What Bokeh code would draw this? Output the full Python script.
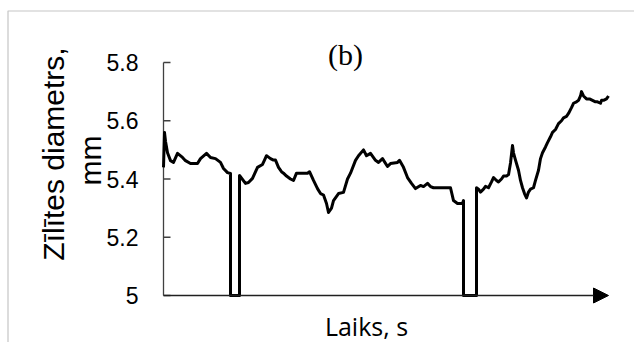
from bokeh.plotting import figure
from bokeh.models import Range1d, Label, Arrow, NormalHead, BoxAnnotation
from bokeh.embed import file_html
from bokeh.resources import INLINE
import math

# time (arbitrary units along the un-labelled axis) and pupil diameter (mm);
# the two drop-outs are recorded as values at the axis minimum
time_s = ([0, 1, 2, 4, 7, 10, 14, 19, 22, 27, 34, 37, 43, 47, 52, 57, 60, 64, 67, 67]
          + [76, 76, 82, 85, 89, 94, 99, 101, 103, 105, 107, 110, 112, 115, 118, 120, 123, 125]
          + [127, 130, 133, 144, 146, 150, 154, 157, 160, 163, 165, 168, 170, 175, 180,
             184, 187, 192, 195, 200, 203, 207, 212, 215, 219, 224, 227, 234, 236, 240,
             244, 248, 252, 257, 260, 264, 267, 270, 287, 290, 294, 299, 300, 300]
          + [313, 313, 315, 317, 320, 322, 325, 328, 330, 333, 335, 338, 340, 343, 345,
             347, 349, 350, 352, 355, 357, 359, 361, 363, 365, 367, 370, 372, 375, 377,
             379, 382, 384, 387, 389, 392, 395, 398, 400, 403, 405, 408, 410, 413, 415,
             417, 418, 420, 423, 426, 429, 432, 434, 437, 438, 440, 443, 445])
diameter = ([5.44, 5.56, 5.53, 5.49, 5.463, 5.457, 5.488, 5.474, 5.463, 5.453, 5.453,
             5.47, 5.488, 5.474, 5.47, 5.457, 5.436, 5.422, 5.419, 5.0]
            + [5.0, 5.412, 5.385, 5.388, 5.402, 5.44, 5.45, 5.465, 5.48, 5.475, 5.47,
               5.465, 5.465, 5.44, 5.425, 5.42, 5.41, 5.405]
            + [5.40, 5.395, 5.42, 5.42, 5.425, 5.395, 5.367, 5.35, 5.345, 5.316, 5.285,
               5.30, 5.326, 5.35, 5.354, 5.40, 5.42, 5.464, 5.48, 5.50, 5.48, 5.488,
               5.464, 5.457, 5.47, 5.443, 5.453, 5.457, 5.464, 5.44, 5.405, 5.385,
               5.367, 5.378, 5.374, 5.385, 5.374, 5.37, 5.37, 5.326, 5.316, 5.316,
               5.326, 5.0]
            + [5.0, 5.37, 5.365, 5.355, 5.365, 5.375, 5.37, 5.39, 5.405, 5.395, 5.39,
               5.40, 5.41, 5.41, 5.415, 5.455, 5.515, 5.49, 5.465, 5.43, 5.395, 5.37,
               5.35, 5.335, 5.355, 5.365, 5.37, 5.395, 5.43, 5.47, 5.49, 5.51, 5.525,
               5.545, 5.56, 5.57, 5.59, 5.60, 5.61, 5.615, 5.625, 5.645, 5.66, 5.665,
               5.67, 5.685, 5.70, 5.685, 5.675, 5.675, 5.67, 5.665, 5.665, 5.66, 5.67,
               5.67, 5.675, 5.685])

y_ticks = [5.0, 5.2, 5.4, 5.6, 5.8]
y_tick_labels = ["5", "5.2", "5.4", "5.6", "5.8"]
y_title_1 = "Zīlītes diametrs,"
y_title_2 = "mm"
x_title = "Laiks, s"
panel_tag = "(b)"

# ---- layout: the whole canvas is the frame, axes drawn by hand ----
W, H = 634, 342
X_MAX = 445            # time span drawn along the arrow
Y_MIN, Y_MAX = 5.0, 5.8
AX_LEFT, AX_RIGHT = 163, 608   # canvas px of time 0 and time X_MAX
AX_TOP, AX_BOT = 62, 295       # canvas px of Y_MAX and Y_MIN
sx = X_MAX / (AX_RIGHT - AX_LEFT)          # data per px (x)
sy = (Y_MAX - Y_MIN) / (AX_BOT - AX_TOP)   # data per px (y)
x0 = -AX_LEFT * sx
x1 = x0 + W * sx
y1 = Y_MAX + AX_TOP * sy
y0 = y1 - H * sy


def cx(px):
    return x0 + px * sx


def cy(py):
    return y1 - py * sy


p = figure(width=W, height=H, output_backend="svg", toolbar_location=None,
           x_range=Range1d(x0, x1), y_range=Range1d(y0, y1),
           x_axis_type=None, y_axis_type=None, min_border=0)
p.outline_line_color = None
p.grid.visible = False
p.background_fill_color = "white"
p.border_fill_color = "white"

AXIS_COL = "#404040"
# y axis line and inward ticks
p.segment(x0=[0], y0=[Y_MIN], x1=[0], y1=[Y_MAX], line_color=AXIS_COL, line_width=1.3)
p.segment(x0=[0] * len(y_ticks), y0=y_ticks, x1=[7 * sx] * len(y_ticks), y1=y_ticks,
          line_color=AXIS_COL, line_width=1.3)
p.text(x=[-25 * sx] * len(y_ticks), y=y_ticks, text=y_tick_labels,
       text_align="right", text_baseline="middle", text_font_size="23px",
       text_color="black", text_font={"value": "Liberation Sans"})

# data
p.line(time_s, diameter, line_color="black", line_width=3, line_join="round")

# x axis drawn as an arrow
p.add_layout(Arrow(end=NormalHead(size=15, fill_color="black", line_color="black"),
                   x_start=0, y_start=Y_MIN, x_end=X_MAX, y_end=Y_MIN,
                   line_color="#202020", line_width=1.5))

# outer chart border (top & left visible, rest beyond the canvas)
p.add_layout(BoxAnnotation(left=cx(7.5), right=cx(W + 40), top=cy(10.5), bottom=cy(H + 40),
                           fill_color=None, line_color=AXIS_COL, line_width=1.2))

p.add_layout(Label(x=cx(345), y=cy(54), text=panel_tag, text_font="Liberation Serif",
                   text_font_size="30px", text_align="center",
                   text_baseline="alphabetic", text_color="black"))
p.add_layout(Label(x=cx(366), y=cy(325), text=x_title, text_font="Open Sans",
                   text_font_size="25px", text_align="center",
                   text_baseline="alphabetic", text_color="black"))
p.add_layout(Label(x=cx(53), y=cy(153.5), text=y_title_1, angle=math.pi / 2,
                   text_font="Liberation Sans", text_font_size="30px",
                   text_align="center", text_baseline="alphabetic", text_color="black"))
p.add_layout(Label(x=cx(90), y=cy(160), text=y_title_2, angle=math.pi / 2,
                   text_font="Liberation Sans", text_font_size="30px",
                   text_align="center", text_baseline="alphabetic", text_color="black"))

open("out.html", "w").write(file_html(p, INLINE))
